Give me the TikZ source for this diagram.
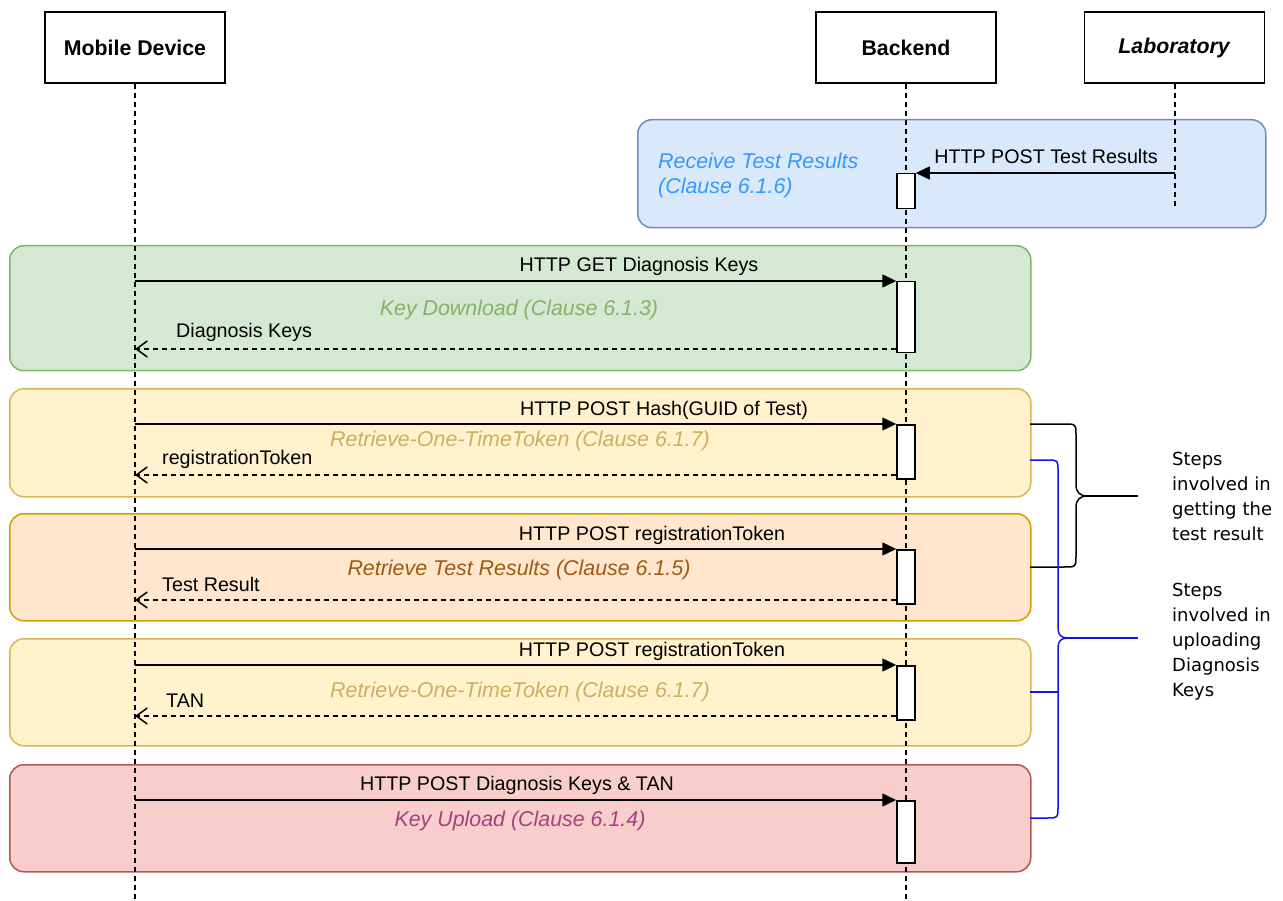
\documentclass[tikz,border=0pt]{standalone}
\usepackage{fontspec}
\setmainfont{Liberation Sans}
\newfontfamily\sidefont{DejaVu Sans}
\usetikzlibrary{arrows.meta}

\definecolor{bluefill}{HTML}{DAE8FC}\definecolor{bluedraw}{HTML}{6C8EBF}\definecolor{bluetxt}{HTML}{3399FF}
\definecolor{greenfill}{HTML}{D5E8D4}\definecolor{greendraw}{HTML}{82B366}\definecolor{greentxt}{HTML}{82B366}
\definecolor{yellowfill}{HTML}{FFF2CC}\definecolor{yellowdraw}{HTML}{D6B656}\definecolor{yellowtxt}{HTML}{CDAF5F}
\definecolor{orangefill}{HTML}{FFE6CC}\definecolor{orangedraw}{HTML}{D79B00}\definecolor{orangetxt}{HTML}{A05A14}
\definecolor{redfill}{HTML}{F8CECC}\definecolor{reddraw}{HTML}{B85450}\definecolor{redtxt}{HTML}{A5417D}
\definecolor{bracketblue}{HTML}{1414E6}

\tikzset{
  actor/.style={draw, line width=1.5pt, minimum width=180pt, minimum height=71pt, inner sep=0,
    font=\bfseries\fontsize{21.3}{25}\selectfont},
  lifeline/.style={line width=1.3pt, dash pattern=on 5pt off 4pt},
  group/.style={draw, line width=1.5pt, rounded corners=14pt, anchor=north west, inner sep=0,
    minimum width=1021pt},
  actbox/.style={draw, fill=white, line width=1.5pt, minimum width=18pt, anchor=north, inner sep=0},
  msg/.style={line width=1.5pt, -{Triangle[length=14pt,width=13pt]}},
  reply/.style={line width=1.3pt, dash pattern=on 5pt off 4pt,
    -{Straight Barb[length=11pt,width=16pt,line width=1.5pt]}},
  lbl/.style={inner sep=0, anchor=base, font=\fontsize{19.7}{23}\selectfont},
  lbll/.style={lbl, anchor=base west},
  title/.style={lbl, font=\itshape\fontsize{21.4}{25}\selectfont},
  titlel/.style={title, anchor=base west},
  brace/.style={line width=1.5pt},
  side/.style={inner sep=0, anchor=base west, align=left, text width=130pt,
    font=\sidefont\fontsize{18}{25}\selectfont},
}

\begin{document}
\begin{tikzpicture}[x=1pt,y=-1pt]
\useasboundingbox (0,0) rectangle (1283,901);

% participants
\node[actor] (mob) at (135,47.5) {Mobile Device};
\node[actor] (be)  at (906,47.5) {Backend};
\node[actor] (lab) at (1174.5,47.5) {\textit{Laboratory}};

% interaction groups
\node[group, fill=bluefill, draw=bluedraw, minimum width=628pt, minimum height=108pt] (grecv) at (637,119) {};
\node[group, fill=greenfill, draw=greendraw, minimum height=125pt] (gdown) at (9,245) {};
\node[group, fill=yellowfill, draw=yellowdraw, minimum height=108pt] (gtok) at (9,388) {};
\node[group, fill=orangefill, draw=orangedraw, minimum height=107pt] (gres) at (9,513) {};
\node[group, fill=yellowfill, draw=yellowdraw, minimum height=107pt] (gtan) at (9,638) {};
\node[group, fill=redfill, draw=reddraw, minimum height=107pt] (gup) at (9,764) {};

% lifelines
\coordinate (mobend) at (135,901);
\coordinate (beend) at (906,901);
\coordinate (labend) at (1175,207);
\draw[lifeline] (mob.south) -- (mobend);
\draw[lifeline] (be.south) -- (beend);
\draw[lifeline] (lab.south -| labend) -- (labend);

% activations on the backend
\node[actbox, minimum height=35pt] (a0) at (906,173) {};
\node[actbox, minimum height=71pt] (a1) at (906,281) {};
\node[actbox, minimum height=54pt] (a2) at (906,424) {};
\node[actbox, minimum height=54pt] (a3) at (906,549) {};
\node[actbox, minimum height=54pt] (a4) at (906,665) {};
\node[actbox, minimum height=62pt] (a5) at (906,800) {};

% receive test results
\coordinate (t0) at (1175,173);
\draw[msg] (t0) -- (a0.east |- t0);
\node[lbl] (l0) at (1046,164) {HTTP POST Test Results};
\node[titlel, text=bluetxt] (n0a) at (658,169) {Receive Test Results};
\node[titlel, text=bluetxt] (n0b) at (658,194) {(Clause 6.1.6)};

% key download
\coordinate (m1) at (135,281);
\coordinate (r1) at (135,349);
\draw[msg] (m1) -- (a1.west |- m1);
\draw[reply] (a1.west |- r1) -- (r1);
\node[lbl] (l1) at (639,272) {HTTP GET Diagnosis Keys};
\node[title, text=greentxt] (n1) at (519,316) {Key Download (Clause 6.1.3)};
\node[lbll] (q1) at (176,338) {Diagnosis Keys};

% one-time token
\coordinate (m2) at (135,424);
\coordinate (r2) at (135,475);
\draw[msg] (m2) -- (a2.west |- m2);
\draw[reply] (a2.west |- r2) -- (r2);
\node[lbl] (l2) at (664,415) {HTTP POST Hash(GUID of Test)};
\node[title, text=yellowtxt] (n2) at (520,446) {Retrieve-One-TimeToken (Clause 6.1.7)};
\node[lbll] (q2) at (162,464) {registrationToken};

% test results
\coordinate (m3) at (135,549);
\coordinate (r3) at (135,600);
\draw[msg] (m3) -- (a3.west |- m3);
\draw[reply] (a3.west |- r3) -- (r3);
\node[lbl] (l3) at (652,540) {HTTP POST registrationToken};
\node[title, text=orangetxt] (n3) at (519,575) {Retrieve Test Results (Clause 6.1.5)};
\node[lbll] (q3) at (162,591) {Test Result};

% TAN
\coordinate (m4) at (135,665);
\coordinate (r4) at (135,716);
\draw[msg] (m4) -- (a4.west |- m4);
\draw[reply] (a4.west |- r4) -- (r4);
\node[lbl] (l4) at (652,656) {HTTP POST registrationToken};
\node[title, text=yellowtxt] (n4) at (520,697) {Retrieve-One-TimeToken (Clause 6.1.7)};
\node[lbll] (q4) at (166,707) {TAN};

% key upload
\coordinate (m5) at (135,800);
\draw[msg] (m5) -- (a5.west |- m5);
\node[lbl] (l5) at (517,790) {HTTP POST Diagnosis Keys \& TAN};
\node[title, text=redtxt] (n5) at (520,826) {Key Upload (Clause 6.1.4)};

% brace: getting the test result
\coordinate (k1) at (1030,424);
\coordinate (k2) at (1030,567);
\coordinate (ktip) at (1088,496);
\coordinate (kend) at (1138,496);
\draw[brace] (k1) -- (1064,424) .. controls (1076,424) .. (1076,436) -- (1076,484)
  .. controls (1076,493) and (1080,496) .. (ktip)
  .. controls (1080,496) and (1076,499) .. (1076,508) -- (1076,555)
  .. controls (1076,567) .. (1064,567) -- (k2);
\draw[brace] (ktip) -- (kend);

% brace: uploading diagnosis keys
\coordinate (u1) at (1030,460);
\coordinate (u2) at (1030,692);
\coordinate (u3) at (1030,818);
\coordinate (uj) at (1058,692);
\coordinate (utip) at (1068,638);
\coordinate (uend) at (1138,638);
\draw[brace, bracketblue] (u1) -- (1047,460) .. controls (1058,460) .. (1058,471) -- (1058,628)
  .. controls (1058,635) and (1061,638) .. (utip)
  .. controls (1061,638) and (1058,641) .. (1058,648) -- (1058,807)
  .. controls (1058,818) .. (1047,818) -- (u3);
\draw[brace, bracketblue] (u2) -- (uj);
\draw[brace, bracketblue] (utip) -- (uend);

% notes
\node[side] (s1) at (1172,465) {Steps\\involved in\\getting the\\test result};
\node[side] (s2) at (1172,596) {Steps\\involved in\\uploading\\Diagnosis\\Keys};
\end{tikzpicture}
\end{document}
